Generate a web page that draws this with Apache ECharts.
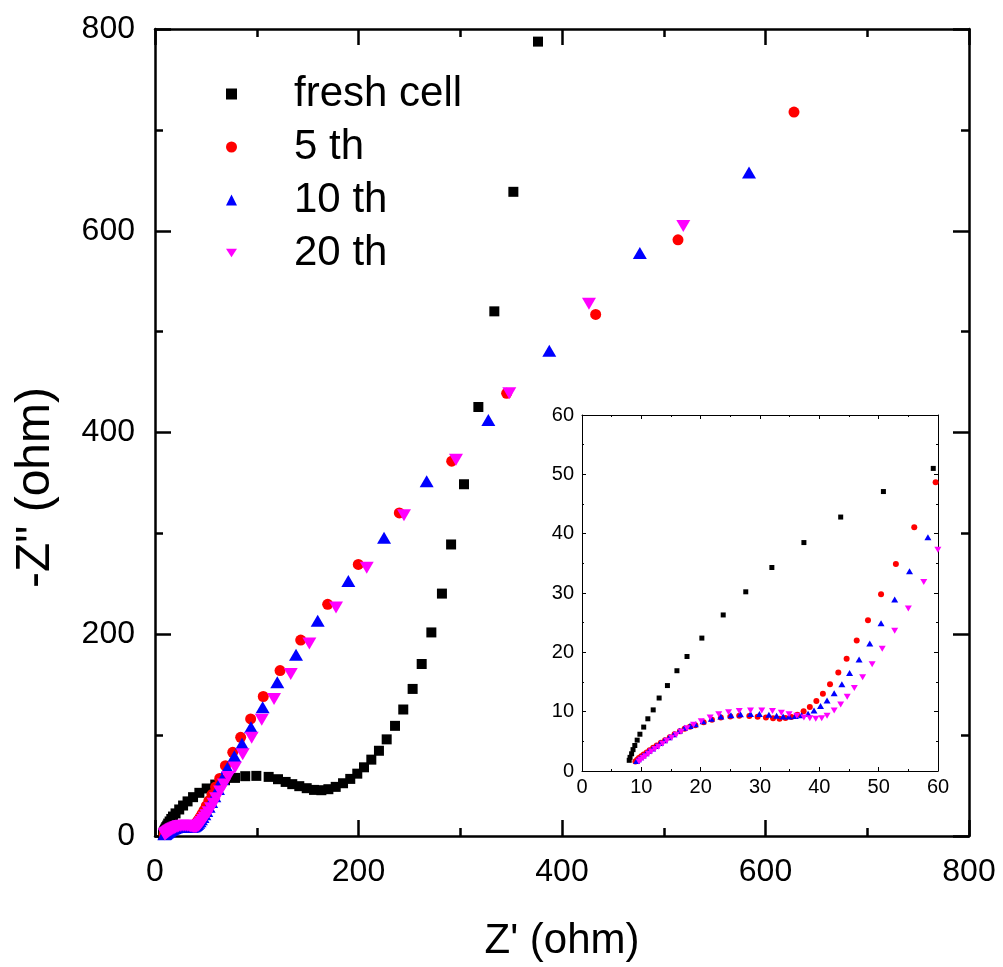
<!DOCTYPE html>
<html>
<head>
<meta charset="utf-8">
<script src="https://cdn.jsdelivr.net/npm/echarts@6/dist/echarts.min.js"></script>
<style>
html,body{margin:0;padding:0;background:#fff;}
#chart{width:1003px;height:967px;}
</style>
</head>
<body>
<div id="chart"></div>
<script>
// ---- data (Z' , -Z'') in ohm ----
const seriesNames = ['fresh cell', '5 th', '10 th', '20 th'];

const freshCell = [
  [7.96,1.8],[8.1,2.3],[8.36,2.9],[8.6,3.6],[8.9,4.3],[9.3,5.2],[9.76,6.2],[10.4,7.4],[11.1,8.8],[12.0,10.3],
  [13.0,12.3],[14.4,14.4],[16.0,16.9],[17.7,19.3],[20.2,22.4],[23.8,26.3],[27.6,30.2],[32.0,34.3],[37.4,38.5],
  [43.6,42.8],[50.8,47.1],[59.2,51.0],[68.8,55.3],[78.6,57.6],[88.7,59.3],[99.6,59.6],[111.7,58.6],[120.9,56.3],
  [128.4,53.6],[134.9,51.4],[141.8,49.4],[149.1,47.4],[156.3,45.7],[163.5,45.4],[170.4,46.4],[177.6,48.7],
  [184.8,52.3],[191.9,56.6],[198.8,61.8],[205.4,68.1],[212.6,75.7],[220.1,84.5],[227.7,95.8],[235.9,109.2],
  [244.0,125.4],[253.2,145.8],[262.1,170.5],[271.6,201.8],[282.0,240.3],[291.0,289.0],[303.7,348.7],
  [317.8,425.3],[333.5,520.1],[352.2,638.6],[376.4,787.5]
];

const cycle5 = [
  [9.0,1.6],[9.3,1.9],[9.6,2.2],[10.0,2.5],[10.4,2.8],[10.9,3.1],[11.4,3.5],[12.0,3.9],[12.6,4.3],[13.3,4.75],
  [14.0,5.2],[14.8,5.7],[15.6,6.2],[16.5,6.7],[17.3,7.1],[18.2,7.45],[19.1,7.7],[20.5,8.2],[21.9,8.65],[23.4,9.0],
  [25.0,9.2],[26.5,9.3],[28.2,9.27],[29.6,9.16],[31.0,9.0],[32.2,8.9],[33.3,8.8],[34.3,8.93],[35.3,9.1],[36.3,9.5],
  [37.35,10.06],[38.4,10.8],[39.5,11.8],[40.6,13.0],[41.8,14.6],[43.2,16.6],[44.6,18.9],[46.3,22.0],[48.2,25.4],
  [50.4,29.8],[52.9,34.9],[56.0,41.1],[59.6,48.65],[63.6,57.0],[69.2,69.7],[76.4,83.0],[84.2,97.8],[94.0,116.1],
  [106.4,138.3],[122.9,164.0],[143.2,194.2],[169.7,229.7],[199.8,269.2],[240.1,320.3],[291.6,371.6],
  [345.6,438.8],[433.1,517.0],[514.0,591.0],[628.0,717.6]
];

const cycle10 = [
  [9.2,1.7],[9.5,2.0],[9.9,2.3],[10.3,2.6],[10.8,3.0],[11.3,3.4],[11.9,3.8],[12.5,4.2],[13.2,4.7],[13.9,5.2],
  [14.7,5.7],[15.5,6.2],[16.4,6.8],[17.3,7.3],[18.2,7.6],[19.1,7.9],[20.4,8.4],[21.8,8.8],[23.4,9.2],[25.1,9.4],
  [26.7,9.55],[28.4,9.6],[29.9,9.6],[31.5,9.5],[32.8,9.3],[33.9,9.2],[34.9,9.2],[35.95,9.27],[37.0,9.38],
  [38.1,9.66],[39.1,10.2],[40.2,10.96],[41.3,11.9],[42.5,13.1],[43.8,14.6],[45.1,16.5],[46.7,18.8],[48.5,21.5],
  [50.4,24.9],[52.7,28.9],[55.2,33.65],[58.3,39.4],[61.9,46.5],[66.0,56.5],[71.1,67.5],[78.0,79.0],[85.5,91.5],
  [94.3,107.9],[105.8,127.7],[120.2,152.4],[138.6,179.8],[159.9,213.3],[190.0,252.8],[225.1,295.6],
  [267.0,351.6],[327.6,412.4],[387.5,481.0],[476.5,578.0],[583.8,657.8]
];

const cycle20 = [
  [9.6,1.6],[9.9,1.9],[10.3,2.2],[10.7,2.5],[11.2,2.9],[11.7,3.3],[12.3,3.7],[12.9,4.1],[13.6,4.6],[14.3,5.1],
  [15.1,5.6],[15.9,6.1],[16.7,6.6],[17.7,7.2],[18.8,7.8],[20.1,8.4],[21.6,9.0],[23.05,9.55],[24.7,9.9],[26.5,10.1],
  [28.4,10.2],[30.3,10.2],[32.1,10.1],[33.6,9.8],[34.9,9.55],[36.2,9.3],[37.4,9.0],[38.4,8.9],[39.4,8.8],
  [40.4,8.9],[41.3,9.3],[42.5,10.2],[43.6,11.2],[44.7,12.5],[45.9,14.0],[47.3,15.8],[48.9,18.0],[50.6,20.6],
  [52.7,23.65],[55.0,27.4],[57.6,31.85],[59.98,37.3],[64.0,44.0],[67.8,51.0],[72.0,58.6],[78.6,67.8],[86.2,81.0],
  [95.0,97.4],[104.9,115.2],[117.0,135.9],[133.4,160.6],[151.7,190.9],[177.9,226.5],[208.1,266.0],
  [244.7,318.0],[295.8,372.9],[348.2,438.8],[426.5,527.7],[519.2,604.7]
];

const xAxisTitle = "Z' (ohm)";
const yAxisTitle = '-Z" (ohm)';

// ---- styling ----
const FONT = '"Liberation Sans", Arial, sans-serif';
const colors = ['#000000', '#ff0000', '#0000ff', '#ff00ff'];
const mainSymbols = [
  {symbol: 'rect', size: 10, rotate: 0},
  {symbol: 'circle', size: 11, rotate: 0},
  {symbol: 'triangle', size: [14, 12], rotate: 0},
  {symbol: 'triangle', size: [14, 12], rotate: 180}
];
const insetSymbols = [
  {symbol: 'rect', size: 5, rotate: 0},
  {symbol: 'circle', size: 6, rotate: 0},
  {symbol: 'triangle', size: [7, 6], rotate: 0},
  {symbol: 'triangle', size: [7, 6], rotate: 180}
];
const allData = [freshCell, cycle5, cycle10, cycle20];

function mainAxis(pos, grid, showLabel, extra) {
  const lw = 2.5;
  return Object.assign({
    type: 'value', gridIndex: grid, position: pos,
    min: 0, max: 800, interval: 200,
    axisLine: {show: true, onZero: false, lineStyle: {color: '#000', width: lw}},
    axisTick: {show: true, inside: true, length: 16, lineStyle: {color: '#000', width: lw}},
    minorTick: {show: true, splitNumber: 2, length: 8, lineStyle: {color: '#000', width: lw}},
    axisLabel: {show: showLabel, fontSize: 32, color: '#000', fontFamily: FONT, margin: 20},
    splitLine: {show: false}, minorSplitLine: {show: false}
  }, extra || {});
}
function insetAxis(pos, grid, showLabel, extra) {
  return Object.assign({
    type: 'value', gridIndex: grid, position: pos,
    min: 0, max: 60, interval: 10,
    axisLine: {show: true, onZero: false, lineStyle: {color: '#000', width: 1}},
    axisTick: {show: true, inside: true, length: 4, lineStyle: {color: '#000', width: 1}},
    minorTick: {show: true, splitNumber: 2, length: 2, lineStyle: {color: '#000', width: 1}},
    axisLabel: {show: showLabel, fontSize: 20, color: '#000', fontFamily: FONT, margin: 6},
    splitLine: {show: false}, minorSplitLine: {show: false}
  }, extra || {});
}

const series = [];
seriesNames.forEach((name, i) => {
  series.push({
    type: 'scatter', name: name, xAxisIndex: 0, yAxisIndex: 0,
    data: allData[i], symbol: mainSymbols[i].symbol, symbolSize: mainSymbols[i].size,
    symbolRotate: mainSymbols[i].rotate, clip: false,
    itemStyle: {color: colors[i], opacity: 1}, emphasis: {disabled: true}
  });
});
seriesNames.forEach((name, i) => {
  series.push({
    type: 'scatter', name: name, xAxisIndex: 2, yAxisIndex: 2,
    data: allData[i], symbol: insetSymbols[i].symbol, symbolSize: insetSymbols[i].size,
    symbolRotate: insetSymbols[i].rotate, clip: true,
    itemStyle: {color: colors[i], opacity: 1}, emphasis: {disabled: true}
  });
});

const chart = echarts.init(document.getElementById('chart'), null, {renderer: 'canvas'});
chart.setOption({
  animation: false,
  backgroundColor: '#fff',
  textStyle: {fontFamily: FONT},
  grid: [
    {left: 155, right: 34, top: 29, bottom: 128, show: false},
    {left: 582, right: 65, top: 415, bottom: 196, show: true, backgroundColor: '#fff', borderWidth: 0}
  ],
  legend: {
    orient: 'vertical', left: 221, top: 68,
    itemWidth: 11, itemHeight: 11, itemGap: 11,
    selectedMode: false,
    textStyle: {fontSize: 42, lineHeight: 42, color: '#000', fontFamily: FONT, padding: [0, 0, 0, 52]},
    data: [
      {name: seriesNames[0], icon: 'rect', itemStyle: {color: colors[0]}},
      {name: seriesNames[1], icon: 'circle', itemStyle: {color: colors[1]}},
      {name: seriesNames[2], icon: 'triangle', itemStyle: {color: colors[2]}},
      {name: seriesNames[3], icon: 'path://M0,0L14,0L7,11Z', itemStyle: {color: colors[3]}}
    ]
  },
  xAxis: [
    mainAxis('bottom', 0, true, {name: xAxisTitle, nameLocation: 'middle', nameGap: 84,
      nameTextStyle: {fontSize: 42, color: '#000', fontFamily: FONT}}),
    mainAxis('top', 0, false),
    insetAxis('bottom', 1, true),
    insetAxis('top', 1, false)
  ],
  yAxis: [
    mainAxis('left', 0, true, {name: yAxisTitle, nameLocation: 'middle', nameGap: 95,
      nameTextStyle: {fontSize: 48, color: '#000', fontFamily: FONT, padding: [0, 110, 0, 0]}}),
    mainAxis('right', 0, false),
    insetAxis('left', 1, true, {axisLabel: {show: true, fontSize: 20, color: '#000', fontFamily: FONT, margin: 8}}),
    insetAxis('right', 1, false)
  ],
  series: series
});
</script>
</body>
</html>
